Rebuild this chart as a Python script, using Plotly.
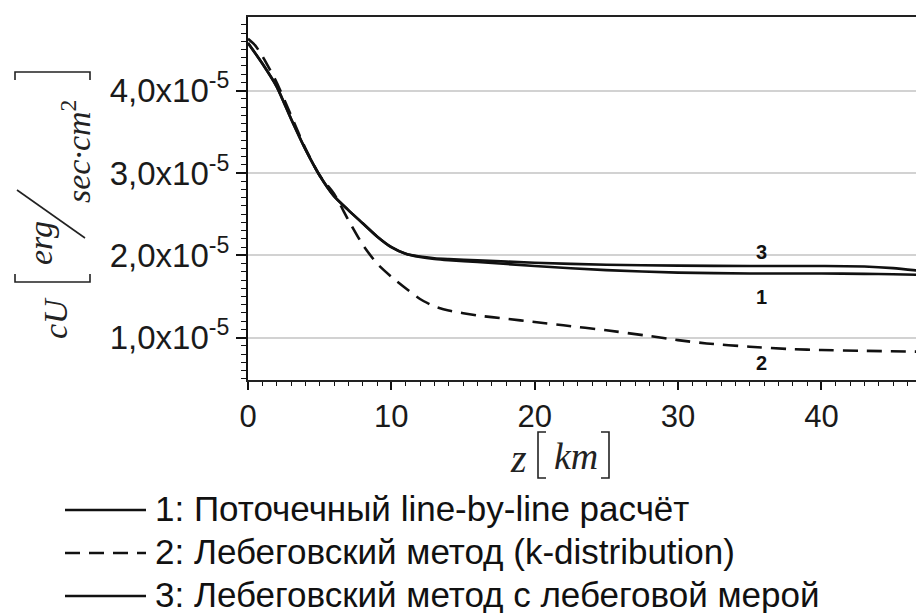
import plotly.graph_objects as go

# ---- data (values in units of 1e-5 erg/(sec*cm^2)) ----
z_solid = [0, 1, 2, 3, 4, 5, 6, 7, 8, 9, 10, 11, 12, 13, 14, 16, 20, 25, 30, 35, 40, 43, 45, 46.7]
cu_1 = [4.58, 4.33, 4.05, 3.66, 3.29, 2.97, 2.72, 2.55, 2.39, 2.23, 2.10, 2.02, 1.98, 1.955, 1.94,
        1.92, 1.87, 1.82, 1.79, 1.78, 1.78, 1.775, 1.77, 1.765]
cu_3 = [4.58, 4.33, 4.05, 3.66, 3.29, 2.97, 2.72, 2.55, 2.39, 2.23, 2.10, 2.02, 1.985, 1.965, 1.955,
        1.94, 1.91, 1.885, 1.875, 1.87, 1.87, 1.865, 1.845, 1.815]
z_dash = [0, 0.5, 1, 2, 3, 4, 5, 6, 7, 8, 9, 10, 11, 12, 13, 14, 16, 18, 20, 22, 25, 28, 30, 32,
          35, 38, 40, 43, 46.7]
cu_2 = [4.63, 4.55, 4.42, 4.10, 3.70, 3.30, 2.97, 2.75, 2.43, 2.13, 1.90, 1.74, 1.60, 1.47, 1.38,
        1.33, 1.27, 1.23, 1.19, 1.15, 1.09, 1.02, 0.97, 0.93, 0.89, 0.86, 0.85, 0.84, 0.83]
scale = 1e-5

y_tickvals = [1.0, 2.0, 3.0, 4.0]
y_ticktext = ["1,0x10<sup>-5</sup>", "2,0x10<sup>-5</sup>", "3,0x10<sup>-5</sup>", "4,0x10<sup>-5</sup>"]
x_tickvals = [0, 10, 20, 30, 40]

curve_labels = ["3", "1", "2"]
curve_label_x = [35.8, 35.8, 35.8]
curve_label_y = [2.04, 1.49, 0.69]

legend_texts = [
    "1: Поточечный line-by-line расчёт",
    "2: Лебеговский метод (k-distribution)",
    "3: Лебеговский метод с лебеговой мерой",
]
legend_dash = ["solid", "15px,9px", "solid"]

# ---- layout geometry ----
W_FIG, H_FIG = 916, 613
L, T, R, B = 248, 17, 0, 233
PW = W_FIG - L - R
PH = H_FIG - T - B


def px(xp):
    return (xp - L) / PW


def py(yp):
    return (H_FIG - B - yp) / PH


fig = go.Figure()
fig.add_trace(go.Scatter(x=z_solid, y=[v * scale for v in cu_1], mode="lines",
                         line=dict(color="#111", width=2.6, shape="spline", smoothing=0.6),
                         showlegend=False))
fig.add_trace(go.Scatter(x=z_solid, y=[v * scale for v in cu_3], mode="lines",
                         line=dict(color="#111", width=2.6, shape="spline", smoothing=0.6),
                         showlegend=False))
fig.add_trace(go.Scatter(x=z_dash, y=[v * scale for v in cu_2], mode="lines",
                         line=dict(color="#111", width=2.6, dash="15px,9px", shape="spline", smoothing=0.6),
                         showlegend=False))

annotations = []
for t, xv, yv in zip(curve_labels, curve_label_x, curve_label_y):
    annotations.append(dict(x=xv, y=yv * scale, xref="x", yref="y", text="<b>" + t + "</b>",
                            showarrow=False, font=dict(family="Liberation Sans", size=20, color="#111")))

shapes = []
# legend rows
leg_y = [510, 553, 596]
for txt, d, yy in zip(legend_texts, legend_dash, leg_y):
    shapes.append(dict(type="line", xref="paper", yref="paper", x0=px(65), x1=px(146), y0=py(yy), y1=py(yy),
                       line=dict(color="#111", width=2.6, dash=d)))
    annotations.append(dict(x=px(153), y=py(yy - 2), xref="paper", yref="paper", text=txt, showarrow=False,
                            xanchor="left", yanchor="middle",
                            font=dict(family="Liberation Sans", size=35, color="#111")))

# y-axis title pieces
serif = "Liberation Serif"
annotations.append(dict(x=px(55), y=py(318), xref="paper", yref="paper", text="<i>cU</i>", textangle=-90,
                        showarrow=False, xanchor="center", yanchor="middle",
                        font=dict(family=serif, size=34, color="#222")))
annotations.append(dict(x=px(40), y=py(243), xref="paper", yref="paper", text="<i>erg</i>", textangle=-90,
                        showarrow=False, xanchor="center", yanchor="middle",
                        font=dict(family=serif, size=34, color="#222")))
annotations.append(dict(x=px(76), y=py(152), xref="paper", yref="paper", text="<i>sec·cm</i><sup>2</sup>",
                        textangle=-90, showarrow=False, xanchor="center", yanchor="middle",
                        font=dict(family=serif, size=34, color="#222")))
shapes.append(dict(type="path", xref="paper", yref="paper",
                   path=f"M {px(15)} {py(274)} L {px(15)} {py(282)} L {px(90)} {py(282)} L {px(90)} {py(274)}",
                   line=dict(color="#222", width=1.6)))
shapes.append(dict(type="path", xref="paper", yref="paper",
                   path=f"M {px(15)} {py(80)} L {px(15)} {py(72)} L {px(90)} {py(72)} L {px(90)} {py(80)}",
                   line=dict(color="#222", width=1.6)))
shapes.append(dict(type="line", xref="paper", yref="paper", x0=px(17), y0=py(190), x1=px(85), y1=py(238),
                   line=dict(color="#222", width=1.6)))

# x-axis title pieces
annotations.append(dict(x=px(518), y=py(458), xref="paper", yref="paper", text="<i>z</i>", showarrow=False,
                        xanchor="center", yanchor="middle", font=dict(family=serif, size=40, color="#222")))
annotations.append(dict(x=px(576), y=py(456), xref="paper", yref="paper", text="<i>km</i>", showarrow=False,
                        xanchor="center", yanchor="middle", font=dict(family=serif, size=38, color="#222")))
shapes.append(dict(type="path", xref="paper", yref="paper",
                   path=f"M {px(546)} {py(432)} L {px(538)} {py(432)} L {px(538)} {py(478)} L {px(546)} {py(478)}",
                   line=dict(color="#222", width=1.6)))
shapes.append(dict(type="path", xref="paper", yref="paper",
                   path=f"M {px(601)} {py(432)} L {px(609)} {py(432)} L {px(609)} {py(478)} L {px(601)} {py(478)}",
                   line=dict(color="#222", width=1.6)))

fig.update_layout(
    width=W_FIG, height=H_FIG,
    margin=dict(l=L, r=R, t=T, b=B, pad=0),
    paper_bgcolor="white", plot_bgcolor="white",
    showlegend=False,
    annotations=annotations, shapes=shapes,
    xaxis=dict(range=[0, 46.6], tickvals=x_tickvals, ticks="outside", ticklen=8, tickwidth=1.5,
               tickcolor="#111", showline=True, linecolor="#222", linewidth=2, mirror=True,
               showgrid=False, zeroline=False,
               tickfont=dict(family="Liberation Sans", size=31, color="#1a1a1a"),
               minor=dict(dtick=1, tick0=0, ticks="outside", ticklen=4, tickwidth=1.3, tickcolor="#111",
                          showgrid=False)),
    yaxis=dict(range=[0.486e-5, 4.895e-5], tickvals=[v * scale for v in y_tickvals], ticktext=y_ticktext,
               ticks="outside", ticklen=10, tickwidth=1.5, tickcolor="#111",
               showline=True, linecolor="#111", linewidth=2, mirror=False,
               showgrid=True, gridcolor="#d2d2d2", gridwidth=2, zeroline=False,
               ticklabelstandoff=0,
               tickfont=dict(family="Liberation Sans", size=33, color="#1a1a1a"),
               minor=dict(dtick=1e-6, tick0=0, ticks="outside", ticklen=5, tickwidth=1.3, tickcolor="#111",
                          showgrid=False)),
)

fig.write_html("out.html")
